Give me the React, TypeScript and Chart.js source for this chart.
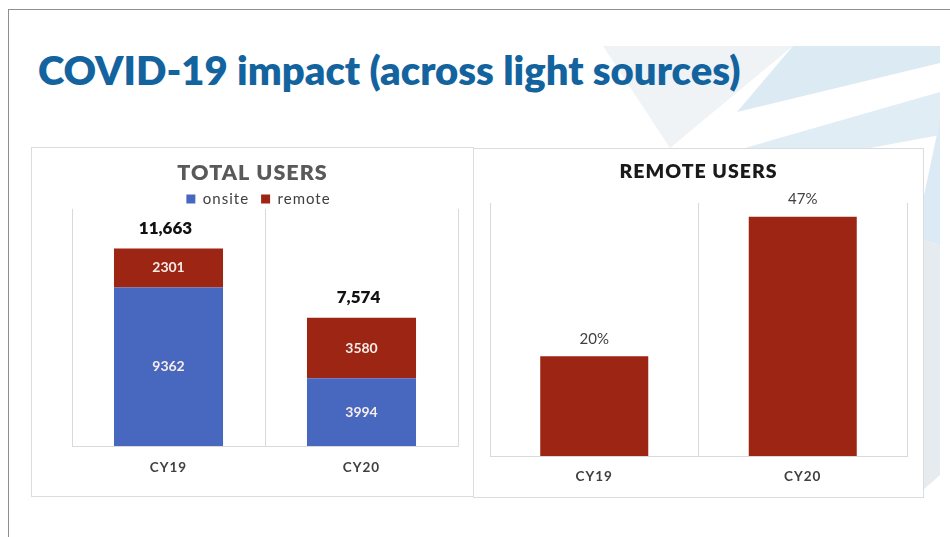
import React, { useEffect, useRef } from "react";
import { Chart, registerables } from "chart.js";

Chart.register(...registerables);

// ---- data ----
const categories = ["CY19", "CY20"];
const onsiteUsers = [9362, 3994];
const remoteUsers = [2301, 3580];
const totalUsers = [11663, 7574];
const remoteSharePct = [19.7, 47.3];
const totalAxisMax = 14000;
const shareAxisMax = 50;

const BLUE = "#4868C0";
const RED = "#9C2513";
const GRID = "#d9d9d9";
const FONT = "Lato, 'Open Sans', sans-serif";

const spacingPlugin = {
  id: "spacing",
  beforeDraw(chart: any) {
    chart.ctx.letterSpacing = "1px";
  },
  beforeDatasetsDraw(chart: any) {
    chart.ctx.letterSpacing = "0px";
  },
  afterDraw(chart: any) {
    chart.ctx.letterSpacing = "0px";
  },
};

const stackLabelPlugin = {
  id: "stackLabels",
  afterDatasetsDraw(chart: any) {
    const ctx = chart.ctx;
    ctx.save();
    ctx.letterSpacing = "0px";
    ctx.textAlign = "center";
    ctx.textBaseline = "middle";
    ctx.font = `bold 14px ${FONT}`;
    ctx.fillStyle = "#f7ede9";
    chart.data.datasets.forEach((ds: any, di: number) => {
      const meta = chart.getDatasetMeta(di);
      meta.data.forEach((bar: any, i: number) => {
        const p = bar.getProps(["x", "y", "base"], true);
        ctx.fillText(String(ds.data[i]), p.x, (p.y + p.base) / 2);
      });
    });
    const lastMeta = chart.getDatasetMeta(chart.data.datasets.length - 1);
    ctx.font = `800 17px ${FONT}`;
    ctx.fillStyle = "#111111";
    lastMeta.data.forEach((bar: any, i: number) => {
      const p = bar.getProps(["x", "y"], true);
      ctx.fillText(totalUsers[i].toLocaleString("en-US"), p.x - 3, p.y - 20);
    });
    ctx.restore();
  },
};

const pctLabelPlugin = {
  id: "pctLabels",
  afterDatasetsDraw(chart: any) {
    const ctx = chart.ctx;
    ctx.save();
    ctx.letterSpacing = "0px";
    ctx.textAlign = "center";
    ctx.textBaseline = "middle";
    ctx.font = `15px ${FONT}`;
    ctx.fillStyle = "#404040";
    const meta = chart.getDatasetMeta(0);
    meta.data.forEach((bar: any, i: number) => {
      const p = bar.getProps(["x", "y"], true);
      ctx.fillText(Math.round(remoteSharePct[i]) + "%", p.x, p.y - 17.5);
    });
    ctx.restore();
  },
};

const hiddenAxis = (width: number, position: string) => ({
  position,
  display: true,
  grid: { display: false },
  border: { display: false },
  ticks: { display: false },
  afterFit: (s: any) => {
    s.width = width;
  },
});

function TotalChart() {
  const ref = useRef<HTMLCanvasElement>(null);
  useEffect(() => {
    const chart = new Chart(ref.current as HTMLCanvasElement, {
      type: "bar",
      data: {
        labels: categories,
        datasets: [
          { label: "onsite", data: onsiteUsers, backgroundColor: BLUE, stack: "s" },
          { label: "remote", data: remoteUsers, backgroundColor: RED, stack: "s" },
        ],
      },
      options: {
        responsive: false,
        maintainAspectRatio: false,
        animation: false,
        layout: { padding: 0 },
        datasets: { bar: { categoryPercentage: 1, barPercentage: 0.565 } },
        scales: {
          x: {
            stacked: true,
            grid: { display: true, offset: true, color: GRID, drawTicks: false },
            border: { display: true, color: GRID },
            ticks: {
              padding: 14,
              color: "#404040",
              font: { family: FONT, size: 13.5, weight: "bold" },
            },
            afterFit: (s: any) => {
              s.height = 50;
            },
          },
          y: { ...hiddenAxis(40, "left"), stacked: true, min: 0, max: totalAxisMax },
          yRight: { ...hiddenAxis(15, "right"), min: 0, max: 1 },
        },
        plugins: {
          title: {
            display: true,
            text: "TOTAL USERS",
            color: "#595959",
            font: { family: FONT, size: 21.5, weight: 800, lineHeight: 1.2 },
            padding: { top: 12.6, bottom: -7 },
          },
          legend: {
            display: true,
            position: "top",
            maxHeight: 29.5,
            labels: {
              boxWidth: 9,
              boxHeight: 9,
              padding: 12,
              color: "#404040",
              font: { family: FONT, size: 15 },
            },
          },
          tooltip: { enabled: false },
        },
      } as any,
      plugins: [spacingPlugin, stackLabelPlugin],
    });
    return () => chart.destroy();
  }, []);
  return <canvas ref={ref} width={441} height={348} style={{ display: "block" }} />;
}

function RemoteChart() {
  const ref = useRef<HTMLCanvasElement>(null);
  useEffect(() => {
    const chart = new Chart(ref.current as HTMLCanvasElement, {
      type: "bar",
      data: {
        labels: categories,
        datasets: [{ label: "remote share", data: remoteSharePct, backgroundColor: RED }],
      },
      options: {
        responsive: false,
        maintainAspectRatio: false,
        animation: false,
        layout: { padding: 0 },
        datasets: { bar: { categoryPercentage: 1, barPercentage: 0.518 } },
        scales: {
          x: {
            grid: { display: true, offset: true, color: GRID, drawTicks: false },
            border: { display: true, color: GRID },
            ticks: {
              padding: 13,
              color: "#404040",
              font: { family: FONT, size: 13.5, weight: "bold" },
            },
            afterFit: (s: any) => {
              s.height = 41;
            },
          },
          y: { ...hiddenAxis(16, "left"), min: 0, max: shareAxisMax },
          yRight: { ...hiddenAxis(16, "right"), min: 0, max: 1 },
        },
        plugins: {
          title: {
            display: true,
            text: "REMOTE USERS",
            color: "#1a1a1a",
            font: { family: FONT, size: 19.5, weight: 800, lineHeight: 1.2 },
            padding: { top: 11.3, bottom: 19.3 },
          },
          legend: { display: false },
          tooltip: { enabled: false },
        },
      } as any,
      plugins: [spacingPlugin, pctLabelPlugin],
    });
    return () => chart.destroy();
  }, []);
  return <canvas ref={ref} width={449} height={348} style={{ display: "block" }} />;
}

export default function App() {
  return (
    <div
      style={{
        position: "absolute",
        left: 0,
        top: 0,
        width: 950,
        height: 537,
        background: "#ffffff",
        overflow: "hidden",
        fontFamily: FONT,
      }}
    >
      <svg width={950} height={537} style={{ position: "absolute", left: 0, top: 0 }}>
        <polygon points="603,46 793,46 670,148" fill="#eff3f6" />
        <polygon points="793,46 940,46 940,63 737,112" fill="#dceaf3" />
        <polygon points="745,148 940,92 940,135 870,148" fill="#e0edf5" />
        <polygon points="923,200 940,120 940,245 923,240" fill="#dbeaf4" />
        <polygon points="923,240 940,245 940,475 923,490" fill="#e5ebef" />
      </svg>
      <div
        style={{
          position: "absolute",
          left: 8,
          top: 9,
          width: 960,
          height: 540,
          borderTop: "1px solid #8f8f8f",
          borderLeft: "1px solid #8f8f8f",
        }}
      />
      <div
        style={{
          position: "absolute",
          left: 38,
          top: 50,
          fontFamily: FONT,
          fontWeight: 800,
          fontSize: 40,
          lineHeight: "40px",
          color: "#13649E",
          whiteSpace: "nowrap",
        }}
      >
        COVID-19 impact (across light sources)
      </div>
      <div
        style={{
          position: "absolute",
          left: 31,
          top: 147,
          width: 443,
          height: 350,
          boxSizing: "border-box",
          border: "1px solid #dcdcdc",
          background: "#ffffff",
        }}
      >
        <TotalChart />
      </div>
      <div
        style={{
          position: "absolute",
          left: 473,
          top: 148,
          width: 451,
          height: 350,
          boxSizing: "border-box",
          border: "1px solid #dcdcdc",
          background: "#ffffff",
        }}
      >
        <RemoteChart />
      </div>
    </div>
  );
}
